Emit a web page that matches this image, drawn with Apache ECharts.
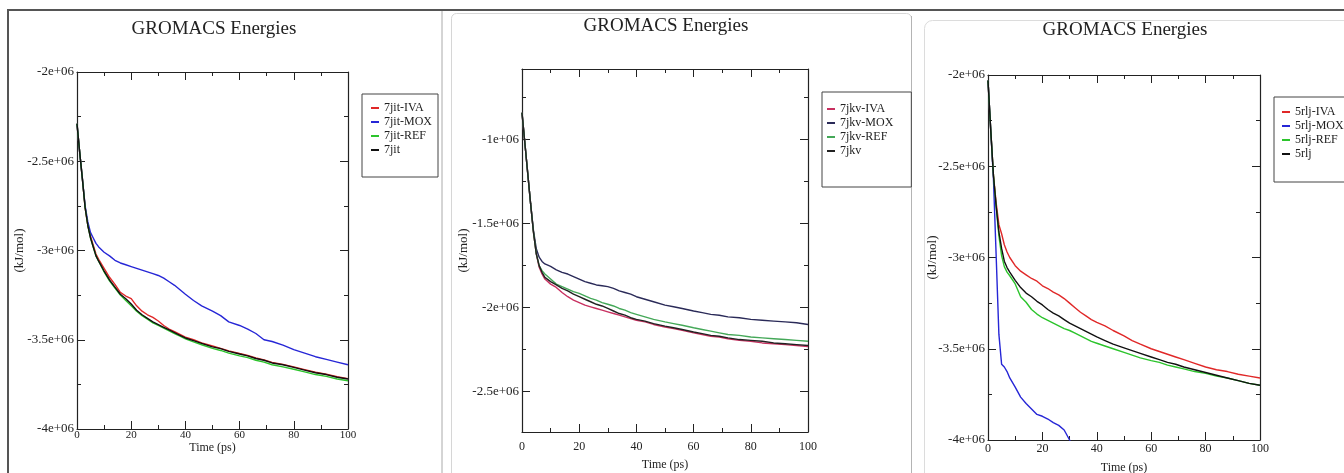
<!DOCTYPE html>
<html>
<head>
<meta charset="utf-8">
<title>GROMACS Energies</title>
<script src="https://cdn.jsdelivr.net/npm/echarts@6/dist/echarts.min.js"></script>
<style>
  html, body { margin: 0; padding: 0; background: #fff; }
  #chart { width: 1344px; height: 473px; }
</style>
</head>
<body>
<div id="chart"></div>
<script>
// energies are written in units of 1e6 kJ/mol
var UNIT = 1e6;

// time (ps), shared by all curves
var time = [0, 1, 2, 3, 4, 5, 6, 7, 8,
  10, 12, 14, 16, 18, 20, 22, 24, 26, 28, 30, 32, 34, 36, 38, 40,
  43, 46, 50, 53, 56, 60, 63, 66, 69, 72, 76, 80, 84, 88, 92, 96, 100];

// panel 1 - 7jit
var names1 = ['7jit-IVA', '7jit-MOX', '7jit-REF', '7jit'];
var jitIVA = [-2.29, -2.45, -2.60, -2.76, -2.86, -2.92, -2.97, -3.02, -3.05,
  -3.10, -3.15, -3.19, -3.235, -3.255, -3.27, -3.31, -3.34, -3.36, -3.375, -3.395, -3.42, -3.44, -3.455, -3.47, -3.485,
  -3.50, -3.518, -3.535, -3.548, -3.562, -3.577, -3.588, -3.602, -3.613, -3.627, -3.638, -3.652, -3.667, -3.682, -3.693, -3.707, -3.718];
var jitMOX = [-2.29, -2.45, -2.60, -2.75, -2.84, -2.90, -2.93, -2.96, -2.98,
  -3.01, -3.03, -3.055, -3.07, -3.08, -3.09, -3.10, -3.11, -3.12, -3.13, -3.14, -3.155, -3.175, -3.195, -3.22, -3.245,
  -3.28, -3.31, -3.34, -3.365, -3.40, -3.42, -3.44, -3.465, -3.50, -3.51, -3.53, -3.555, -3.575, -3.595, -3.61, -3.625, -3.64];
var jitREF = [-2.29, -2.45, -2.60, -2.76, -2.86, -2.93, -2.98, -3.03, -3.06,
  -3.12, -3.17, -3.21, -3.25, -3.28, -3.31, -3.34, -3.365, -3.385, -3.405, -3.42, -3.435, -3.45, -3.465, -3.48, -3.495,
  -3.512, -3.528, -3.548, -3.56, -3.575, -3.59, -3.60, -3.615, -3.625, -3.64, -3.652, -3.665, -3.68, -3.695, -3.705, -3.72, -3.73];
var jit = [-2.29, -2.45, -2.60, -2.76, -2.86, -2.93, -2.98, -3.03, -3.06,
  -3.115, -3.165, -3.205, -3.245, -3.27, -3.30, -3.335, -3.36, -3.38, -3.40, -3.415, -3.43, -3.445, -3.46, -3.475, -3.49,
  -3.505, -3.52, -3.54, -3.55, -3.565, -3.58, -3.59, -3.605, -3.615, -3.63, -3.64, -3.655, -3.67, -3.685, -3.695, -3.71, -3.72];

// panel 2 - 7jkv
var names2 = ['7jkv-IVA', '7jkv-MOX', '7jkv-REF', '7jkv'];
var jkvIVA = [-0.84, -1.02, -1.20, -1.38, -1.55, -1.68, -1.76, -1.80, -1.83,
  -1.86, -1.88, -1.91, -1.935, -1.955, -1.97, -1.985, -1.995, -2.005, -2.015, -2.025, -2.035, -2.045, -2.055, -2.065, -2.075,
  -2.085, -2.10, -2.115, -2.125, -2.135, -2.15, -2.16, -2.17, -2.175, -2.185, -2.195, -2.20, -2.21, -2.215, -2.22, -2.225, -2.232];
var jkvMOX = [-0.84, -1.02, -1.20, -1.38, -1.54, -1.65, -1.70, -1.725, -1.74,
  -1.755, -1.775, -1.79, -1.80, -1.815, -1.83, -1.845, -1.855, -1.865, -1.87, -1.875, -1.885, -1.90, -1.91, -1.92, -1.935,
  -1.95, -1.965, -1.985, -1.995, -2.005, -2.02, -2.03, -2.04, -2.045, -2.055, -2.06, -2.07, -2.075, -2.08, -2.085, -2.09, -2.10];
var jkvREF = [-0.84, -1.02, -1.20, -1.38, -1.55, -1.68, -1.75, -1.78, -1.80,
  -1.83, -1.86, -1.875, -1.89, -1.905, -1.915, -1.93, -1.945, -1.955, -1.97, -1.98, -1.99, -2.005, -2.015, -2.03, -2.04,
  -2.055, -2.07, -2.085, -2.095, -2.105, -2.12, -2.13, -2.14, -2.15, -2.16, -2.165, -2.175, -2.18, -2.185, -2.19, -2.195, -2.20];
var jkv = [-0.84, -1.02, -1.20, -1.38, -1.55, -1.68, -1.75, -1.79, -1.82,
  -1.845, -1.865, -1.885, -1.90, -1.92, -1.935, -1.95, -1.965, -1.98, -1.99, -2.005, -2.02, -2.035, -2.045, -2.06, -2.07,
  -2.08, -2.095, -2.11, -2.12, -2.13, -2.145, -2.155, -2.165, -2.17, -2.18, -2.19, -2.195, -2.20, -2.21, -2.215, -2.22, -2.225];

// panel 3 - 5rlj (MOX leaves the frame at ~30 ps)
var names3 = ['5rlj-IVA', '5rlj-MOX', '5rlj-REF', '5rlj'];
var rljIVA = [-2.03, -2.30, -2.55, -2.70, -2.82, -2.87, -2.93, -2.97, -3.00,
  -3.045, -3.075, -3.095, -3.115, -3.13, -3.155, -3.17, -3.19, -3.205, -3.225, -3.25, -3.275, -3.30, -3.32, -3.34, -3.355,
  -3.375, -3.40, -3.43, -3.455, -3.475, -3.50, -3.515, -3.53, -3.545, -3.56, -3.58, -3.60, -3.615, -3.625, -3.64, -3.65, -3.66];
var rljMOX = [-2.03, -2.30, -2.57, -2.99, -3.42, -3.585, -3.60, -3.625, -3.66,
  -3.71, -3.765, -3.80, -3.83, -3.86, -3.87, -3.885, -3.905, -3.92, -3.945, -4.0, -4.06];
var rljREF = [-2.03, -2.30, -2.55, -2.72, -2.88, -2.99, -3.05, -3.08, -3.10,
  -3.145, -3.215, -3.245, -3.285, -3.31, -3.33, -3.345, -3.36, -3.375, -3.39, -3.40, -3.415, -3.43, -3.445, -3.46, -3.47,
  -3.485, -3.50, -3.52, -3.535, -3.55, -3.565, -3.575, -3.59, -3.60, -3.61, -3.625, -3.635, -3.65, -3.66, -3.675, -3.69, -3.70];
var rlj = [-2.03, -2.30, -2.55, -2.72, -2.86, -2.95, -3.02, -3.055, -3.08,
  -3.125, -3.165, -3.195, -3.215, -3.24, -3.26, -3.285, -3.305, -3.32, -3.34, -3.36, -3.375, -3.39, -3.405, -3.42, -3.435,
  -3.455, -3.475, -3.495, -3.51, -3.525, -3.545, -3.56, -3.575, -3.585, -3.60, -3.615, -3.63, -3.645, -3.66, -3.675, -3.69, -3.70];

// y tick labels (major) and minor ticks
var yTicks1 = [-4e6, -3.5e6, -3e6, -2.5e6, -2e6];
var yMinor1 = [-3.75e6, -3.25e6, -2.75e6, -2.25e6];
var yTicks2 = [-2.5e6, -2e6, -1.5e6, -1e6];
var yMinor2 = [-2.25e6, -1.75e6, -1.25e6, -0.75e6];
var yTicks3 = yTicks1;
var yMinor3 = yMinor1;

var FONT = '"Liberation Serif", "DejaVu Serif", serif';
var INK = '#222';

var panels = [
  {
    names: names1, values: [jitIVA, jitMOX, jitREF, jit],
    colors: ['#e02828', '#2626d6', '#2cc42c', '#111'],
    grid: { left: 77, top: 72, width: 271, height: 357 },
    yMin: -4e6, yMax: -2e6, yTicks: yTicks1, yMinor: yMinor1,
    titleX: 214, titleY: 20,
    xLabelSize: 11, xLabelMargin: 1, xNameGap: 13, yNameGap: 51,
    legend: { left: 362, top: 94, padding: [7, 6, 20, 9] }
  },
  {
    names: names2, values: [jkvIVA, jkvMOX, jkvREF, jkv],
    colors: ['#c83060', '#2a2a58', '#44a858', '#222'],
    grid: { left: 522, top: 69, width: 286, height: 363 },
    yMin: -2.74e6, yMax: -0.58e6, yTicks: yTicks2, yMinor: yMinor2,
    titleX: 666, titleY: 17,
    xLabelSize: 12, xLabelMargin: 9, xNameGap: 27, yNameGap: 52,
    legend: { left: 822, top: 92, padding: [10, 18, 29, 5] }
  },
  {
    names: names3, values: [rljIVA, rljMOX, rljREF, rlj],
    colors: ['#e02828', '#2626d6', '#2cc42c', '#111'],
    grid: { left: 988, top: 75, width: 272, height: 365 },
    yMin: -4e6, yMax: -2e6, yTicks: yTicks3, yMinor: yMinor3,
    titleX: 1125, titleY: 21,
    xLabelSize: 12, xLabelMargin: 3, xNameGap: 22, yNameGap: 49,
    legend: { left: 1274, top: 97, padding: [8, 30, 21, 8] }
  }
];

function fmtE(v) {
  return (v / UNIT) + 'e+06';
}

var grids = [], xAxes = [], yAxes = [], titles = [], legends = [], series = [];

panels.forEach(function (P, p) {
  // keep the plot box fixed even when the axis name runs off the page
  grids.push(Object.assign({ outerBoundsMode: 'none', containLabel: false }, P.grid));

  titles.push({
    text: 'GROMACS Energies', left: P.titleX, top: P.titleY, textAlign: 'center', padding: 0,
    textStyle: { fontFamily: FONT, fontSize: 19, fontWeight: 'normal', color: INK }
  });

  // short dash samples like the xmgrace legend
  legends.push({
    orient: 'vertical', left: P.legend.left, top: P.legend.top, padding: P.legend.padding,
    data: P.names, icon: 'rect', itemGap: 0, itemWidth: 8, itemHeight: 2, selectedMode: false,
    borderColor: '#444', borderWidth: 1, backgroundColor: '#fff',
    textStyle: { fontFamily: FONT, fontSize: 12, color: INK, lineHeight: 14 }
  });

  // bottom + top x axes, ticks pointing in
  ['bottom', 'top'].forEach(function (pos) {
    var main = pos === 'bottom';
    xAxes.push({
      gridIndex: p, type: 'value', position: pos, min: 0, max: 100, interval: 20,
      name: main ? 'Time (ps)' : '', nameLocation: 'middle', nameGap: P.xNameGap,
      nameMoveOverlap: false,
      nameTextStyle: { fontFamily: FONT, fontSize: 12, color: INK, verticalAlign: 'top' },
      axisLine: { show: true, onZero: false, lineStyle: { color: INK, width: 1.2 } },
      axisTick: { show: true, inside: true, length: 8, lineStyle: { color: INK } },
      minorTick: { show: true, splitNumber: 2, length: 4, lineStyle: { color: INK } },
      axisLabel: { show: main, fontFamily: FONT, fontSize: P.xLabelSize, color: INK, margin: P.xLabelMargin },
      splitLine: { show: false }
    });
  });

  // left + right y axes (major), then the same again for the minor ticks
  ['left', 'right'].forEach(function (pos) {
    var main = pos === 'left';
    yAxes.push({
      gridIndex: p, type: 'value', position: pos, min: P.yMin, max: P.yMax,
      name: main ? '(kJ/mol)' : '', nameLocation: 'middle', nameGap: P.yNameGap,
      nameMoveOverlap: false,
      nameTextStyle: { fontFamily: FONT, fontSize: 13, color: INK },
      axisLine: { show: true, onZero: false, lineStyle: { color: INK, width: 1.2 } },
      axisTick: { show: true, inside: true, length: 8, customValues: P.yTicks, lineStyle: { color: INK } },
      axisLabel: { show: main, customValues: P.yTicks, formatter: fmtE, fontFamily: FONT, fontSize: 13, color: INK, margin: 3 },
      splitLine: { show: false }
    });
  });
  ['left', 'right'].forEach(function (pos) {
    yAxes.push({
      gridIndex: p, type: 'value', position: pos, min: P.yMin, max: P.yMax,
      axisLine: { show: false, onZero: false },
      axisTick: { show: true, inside: true, length: 4, customValues: P.yMinor, lineStyle: { color: INK } },
      axisLabel: { show: false },
      splitLine: { show: false }
    });
  });

  P.names.forEach(function (name, k) {
    var vals = P.values[k];
    var data = [];
    for (var i = 0; i < vals.length; i++) {
      data.push([time[i], vals[i] * UNIT]);
    }
    series.push({
      name: name, type: 'line', xAxisIndex: p * 2, yAxisIndex: p * 4,
      data: data, showSymbol: false, symbol: 'none', clip: true,
      lineStyle: { color: P.colors[k], width: 1.4 },
      itemStyle: { color: P.colors[k] }
    });
  });
});

// page frames of the three screenshots
var frames = [
  { type: 'line', shape: { x1: 7, y1: 10, x2: 1344, y2: 10 }, style: { stroke: '#555', lineWidth: 2 } },
  { type: 'line', shape: { x1: 8, y1: 10, x2: 8, y2: 473 }, style: { stroke: '#555', lineWidth: 2 } },
  { type: 'line', shape: { x1: 442, y1: 11, x2: 442, y2: 473 }, style: { stroke: '#aaa', lineWidth: 1 } },
  { type: 'rect', shape: { x: 451.5, y: 13.5, width: 460, height: 480, r: 5 }, style: { fill: null, stroke: '#d6d6d6', lineWidth: 1 } },
  { type: 'line', shape: { x1: 911.5, y1: 16, x2: 911.5, y2: 473 }, style: { stroke: '#b4b4b4', lineWidth: 1 } },
  { type: 'rect', shape: { x: 924.5, y: 20.5, width: 460, height: 480, r: 8 }, style: { fill: null, stroke: '#dcdcdc', lineWidth: 1 } }
];

var chart = echarts.init(document.getElementById('chart'));
chart.setOption({
  animation: false,
  backgroundColor: '#fff',
  graphic: { elements: frames },
  title: titles,
  legend: legends,
  grid: grids,
  xAxis: xAxes,
  yAxis: yAxes,
  series: series
});
</script>
</body>
</html>
